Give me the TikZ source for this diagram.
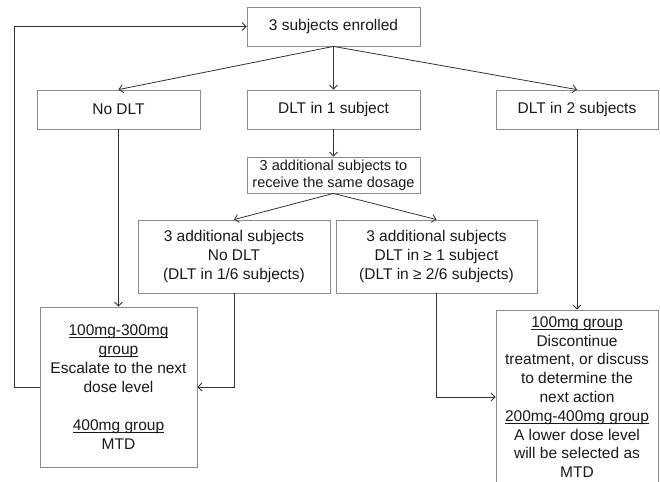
\documentclass[tikz,border=0pt]{standalone}
\usepackage{fontspec}
\setmainfont{Liberation Sans}
\usetikzlibrary{arrows.meta}
\definecolor{boxgray}{RGB}{140,140,140}
\definecolor{linegray}{RGB}{50,50,50}
\newcommand\undl[1]{\setbox0=\hbox{#1}\rlap{\rule[-2pt]{\wd0}{0.7pt}}\box0}
\begin{document}
\begin{tikzpicture}[x=1pt,y=-1pt,
  box/.style={draw=boxgray, line width=0.8pt, align=center, inner sep=0pt,
    font=\fontsize{15.5}{19}\selectfont, text=black!90},
  arr/.style={draw=linegray, line width=0.8pt, -{Straight Barb[length=4pt,width=8pt]}},
  conn/.style={draw=linegray, line width=0.8pt}]
\useasboundingbox (0,0) rectangle (660,481);
\node[box, minimum width=173pt, minimum height=39pt] (top) at (333.5,26.5) {3 subjects enrolled};
\node[box, minimum width=163pt, minimum height=39pt] (nodlt) at (118.5,109.5) {No DLT};
\node[box, minimum width=173pt, minimum height=39pt] (dlt1) at (333.5,109.5) {DLT in 1 subject};
\node[box, minimum width=162pt, minimum height=39pt] (dlt2) at (577,109.5) {DLT in 2 subjects};
\node[box, minimum width=173pt, minimum height=36pt, font=\fontsize{14.5}{17}\selectfont] (dose) at (333.5,175) {3 additional subjects to\\receive the same dosage};
\node[box, minimum width=192pt, minimum height=73pt] (midL) at (234,256.5) {3 additional subjects\\No DLT\\(DLT in 1/6 subjects)};
\node[box, minimum width=201pt, minimum height=73pt] (midR) at (436.5,256.5) {3 additional subjects\\DLT in ≥ 1 subject\\(DLT in ≥ 2/6 subjects)};
\node[box, minimum width=157pt, minimum height=160pt] (botL) at (118.5,387) {\undl{100mg-300mg}\\\undl{group}\\Escalate to the next\\dose level\\[19pt]\undl{400mg group}\\MTD};
\node[box, minimum width=162pt, minimum height=174pt, font=\fontsize{15.5}{18.8}\selectfont] (botR) at (577,397) {\undl{100mg group}\\Discontinue\\treatment, or discuss\\to determine the\\next action\\\undl{200mg-400mg group}\\A lower dose level\\will be selected as\\MTD};
\coordinate (lc) at (14,387);
\draw[arr] (top.south) -- (nodlt.north);
\draw[arr] (top.south) -- (dlt1.north);
\draw[arr] (top.south) -- (dlt2.north);
\draw[arr] (dlt1.south) -- (dose.north);
\draw[arr] (dose.south) -- (midL.north);
\draw[arr] (dose.south) -- (midR.north);
\draw[arr] (nodlt.south) -- (botL.north);
\draw[arr] (dlt2.south) -- (botR.north);
\draw[arr] (midL.south) |- (botL.east);
\draw[arr] (midR.south) |- (botR.west);
\draw[arr] (botL.west) -- (lc) |- (top.west);
\end{tikzpicture}
\end{document}
